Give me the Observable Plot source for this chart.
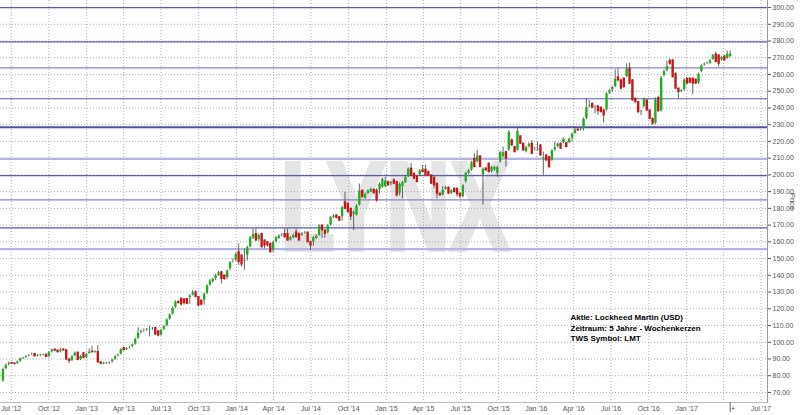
<!DOCTYPE html>
<html><head><meta charset="utf-8">
<script src="https://cdn.jsdelivr.net/npm/d3@7"></script>
<script src="https://cdn.jsdelivr.net/npm/@observablehq/plot@0.6"></script>
<style>body{margin:0;background:#fff;} #chart svg{display:block;background:#fff;}</style>
</head><body><div id="chart"></div>
<script>
const startDate = "2012-06-11";
const opens = [
76.6,84.0,86.4,87.6,87.2,87.0,88.4,90.2,90.6,91.6,
92.4,93.0,91.6,92.0,92.2,92.6,91.2,94.0,95.6,95.0,
94.0,95.6,95.2,89.6,88.8,91.6,93.8,89.4,93.4,90.6,
93.0,94.4,94.0,94.2,88.0,87.2,87.2,87.6,88.0,89.6,
91.6,92.6,96.6,95.2,96.4,97.2,98.6,102.0,105.6,106.8,
107.4,107.6,108.0,108.6,106.6,104.0,107.4,109.6,113.6,116.6,
120.6,124.2,126.0,125.6,125.9,126.4,127.9,129.9,127.0,124.9,
124.9,128.9,133.9,135.9,137.8,139.8,141.8,139.8,138.4,143.8,
147.8,148.8,153.8,151.8,148.0,151.8,156.8,161.8,164.7,161.2,
164.7,160.8,159.8,158.8,154.8,159.8,161.8,163.7,164.7,164.7,
160.8,162.1,165.7,164.7,163.7,165.1,165.5,159.8,159.8,161.8,
163.7,169.7,166.7,165.0,169.7,174.3,175.7,174.7,174.7,183.7,
182.7,179.7,176.0,175.7,181.7,190.6,185.7,188.6,189.6,191.0,
190.7,190.7,192.3,192.7,195.7,194.4,196.7,195.7,188.7,192.7,
195.1,198.7,203.7,200.7,199.1,199.7,202.7,203.1,201.7,199.7,
198.3,194.7,188.7,187.7,191.1,192.3,188.7,191.7,191.7,188.7,
186.7,195.7,200.7,202.7,209.6,207.6,211.0,199.7,203.7,206.7,
201.7,202.7,200.7,207.6,210.6,213.6,214.6,220.6,216.6,214.6,
223.0,218.6,213.6,216.6,218.6,215.0,214.6,217.6,209.0,211.6,
210.6,208.6,214.6,216.6,218.6,219.0,219.0,219.0,221.6,224.6,
227.0,226.6,227.6,233.5,240.5,242.5,240.1,240.9,240.1,238.5,
238.5,248.5,250.5,252.5,258.4,256.5,257.5,258.4,263.4,256.5,
245.5,243.5,237.5,240.5,244.5,238.5,233.5,230.6,246.0,238.0,
259.0,262.0,268.0,268.4,260.4,251.5,249.5,250.5,257.5,257.5,
257.5,256.9,254.5,261.4,265.4,266.4,266.4,268.8,272.0,271.4,
268.4,270.8,269.4,270.4];
const highs = [
84.6,87.0,88.2,88.0,87.8,88.8,90.6,91.0,92.0,92.8,
93.6,93.4,92.6,92.8,93.0,92.8,94.4,96.0,96.0,95.2,
96.4,96.2,95.4,90.4,92.0,94.2,94.0,92.2,93.8,93.4,
96.0,97.6,95.0,98.0,88.4,88.0,88.0,88.4,90.0,92.0,
93.0,96.2,96.8,96.8,97.6,99.0,102.4,108.6,107.4,108.0,
108.2,109.6,109.0,108.8,106.8,107.8,110.0,114.0,117.0,121.0,
124.8,124.6,126.4,125.8,126.2,128.4,130.9,130.6,127.4,125.2,
129.4,134.4,137.4,138.4,140.6,142.4,142.2,140.2,143.2,148.2,
149.8,153.4,158.8,152.2,155.8,157.4,163.2,167.7,167.7,164.8,
165.2,161.2,160.2,159.2,160.2,163.2,164.2,165.0,167.7,167.7,
163.2,164.6,167.7,165.2,165.6,166.2,165.8,160.2,163.2,164.2,
170.2,170.2,167.2,170.2,175.2,176.2,176.2,175.0,181.2,189.6,
183.2,180.2,178.6,182.2,194.6,190.8,189.2,191.2,192.2,191.8,
191.7,195.2,198.2,198.7,196.2,196.2,197.7,196.2,195.2,196.2,
199.2,204.2,206.7,201.2,199.6,203.2,205.7,205.7,202.2,200.2,
198.8,195.2,189.2,193.1,193.2,192.8,191.2,192.2,192.2,189.2,
194.2,201.6,203.2,208.1,212.6,214.6,211.5,204.2,204.6,207.2,
205.2,205.2,205.2,214.1,216.6,214.1,226.6,221.5,217.1,227.6,
223.5,219.1,217.1,219.1,220.6,216.4,219.6,218.1,213.6,212.1,
211.1,215.1,219.6,219.1,219.2,222.0,219.4,222.0,225.0,228.6,
227.6,228.0,234.0,245.5,244.5,243.0,241.4,241.4,240.6,239.0,
249.0,251.0,253.0,262.8,263.4,257.0,258.0,266.4,266.8,257.0,
246.0,244.0,238.6,246.0,245.0,239.0,234.0,246.0,247.0,258.8,
262.6,268.0,269.4,268.8,260.8,252.0,251.0,257.4,258.0,258.0,
258.0,257.4,260.9,265.9,266.9,267.4,268.9,272.0,273.4,271.8,
270.8,271.2,274.0,274.0];
const lows = [
76.0,83.6,85.8,86.8,86.4,86.8,88.0,89.6,90.2,91.2,
92.0,91.2,91.2,91.4,91.8,90.8,91.0,93.6,94.4,93.6,
93.6,94.6,89.0,87.2,88.4,91.2,89.0,89.0,90.2,90.2,
92.8,93.6,93.4,87.6,86.6,86.6,86.8,86.8,87.6,89.2,
91.2,92.4,94.8,95.0,96.0,96.8,98.2,101.6,105.0,106.0,
106.6,103.2,107.0,104.0,103.2,103.6,107.0,109.2,113.2,116.2,
120.2,122.8,121.6,122.2,122.4,122.6,127.6,126.6,121.4,121.6,
122.2,128.4,133.4,135.4,136.8,139.4,134.9,136.8,137.4,142.6,
147.2,148.2,145.8,144.8,143.0,148.6,156.4,161.4,160.2,160.4,
156.2,155.8,156.8,153.2,153.6,159.4,161.4,163.0,162.2,160.2,
160.4,161.8,162.2,160.2,163.2,164.4,159.2,154.8,157.4,161.4,
163.4,162.0,162.0,164.6,169.4,174.0,173.6,172.2,172.4,179.2,
177.2,172.7,166.7,175.4,181.4,186.2,185.4,188.2,189.4,188.4,
183.7,188.4,192.0,192.4,193.2,193.4,194.2,186.7,187.4,185.7,
194.8,198.4,199.2,197.2,195.2,199.2,201.2,199.2,199.0,194.2,
191.7,185.7,187.2,187.4,190.8,188.2,188.4,189.2,186.7,185.7,
186.2,195.2,200.2,202.2,204.2,207.1,204.2,181.8,202.2,201.2,
201.2,202.2,198.7,207.1,210.1,204.7,214.1,217.1,213.1,214.1,
218.1,214.1,213.1,216.1,212.1,214.4,214.1,211.1,199.7,208.1,
203.7,208.1,214.1,216.1,215.2,218.6,216.2,218.6,219.6,224.2,
226.0,226.2,226.2,233.0,240.0,239.6,236.5,235.5,237.0,231.0,
238.0,248.0,249.5,252.0,255.5,251.0,251.5,258.0,254.0,244.0,
242.5,236.5,235.5,240.0,238.0,233.0,229.6,230.0,237.5,237.5,
258.5,261.5,265.5,258.0,251.0,245.5,249.0,250.0,254.0,255.0,
248.0,254.0,254.0,261.0,265.0,266.0,266.0,268.4,267.0,264.4,
268.0,268.0,269.0,270.0];
const closes = [
84.0,86.4,87.6,87.2,87.0,88.4,90.2,90.6,91.6,92.4,
93.0,91.6,92.0,92.2,92.6,91.2,94.0,95.6,95.0,94.0,
95.6,95.2,89.6,88.8,91.6,93.8,89.4,91.8,90.6,93.0,
94.4,94.0,94.2,88.0,87.2,87.2,87.6,88.0,89.6,91.6,
92.6,95.8,95.2,96.4,97.2,98.6,102.0,105.6,106.8,107.4,
107.6,108.0,108.6,104.6,104.0,107.4,109.6,113.6,116.6,120.6,
124.2,123.4,122.6,123.4,122.9,127.9,129.9,127.0,121.9,122.5,
128.9,133.9,136.9,137.8,139.8,141.8,137.8,137.8,142.8,147.8,
148.4,152.8,147.8,146.4,149.0,156.8,162.7,164.7,160.8,164.1,
156.8,157.8,157.8,153.8,159.8,162.7,163.7,164.2,162.7,160.8,
162.7,164.1,162.7,160.8,165.1,165.5,159.8,157.8,162.7,163.7,
169.7,166.7,164.7,169.7,174.7,175.7,174.3,172.7,180.7,179.7,
177.7,175.1,178.0,181.7,190.6,186.7,188.6,190.6,191.6,189.0,
184.7,194.7,197.7,196.7,193.7,195.7,194.7,187.7,194.7,195.7,
198.7,203.7,199.7,197.7,195.7,202.7,201.7,199.7,199.7,194.7,
193.7,188.7,187.7,191.1,192.7,188.7,190.7,189.7,188.3,187.1,
193.7,201.1,202.7,207.6,204.7,211.6,204.7,203.7,202.7,201.7,
204.7,204.7,204.7,213.6,213.6,209.6,225.6,217.6,213.6,226.2,
218.6,214.6,216.6,218.6,212.6,215.6,215.6,211.6,210.5,208.6,
204.7,214.6,216.6,218.6,215.6,221.6,216.6,221.6,224.6,227.0,
226.6,227.6,233.5,240.5,241.5,240.1,240.9,238.1,237.5,235.5,
248.5,250.5,252.5,257.5,256.5,251.5,252.5,263.4,254.5,244.5,
243.5,237.5,238.5,245.5,238.5,233.5,230.6,245.0,238.0,258.0,
262.0,265.0,266.4,258.4,251.5,249.5,250.5,256.9,254.5,255.0,
254.5,254.5,260.4,265.4,266.4,266.8,268.4,271.6,267.4,266.4,
270.4,268.4,272.4,272.4];

const levelsDark = [300, 279.5, 245.5, 199.6, 168.3];
const levelsMid = [264, 185.1];
const levelsThick = [228.5];
const levelsLight = [209.6, 155.6];
const yTicks = [70,80,90,100,110,120,130,140,150,160,170,180,190,200,210,220,230,240,250,260,270,280,290,300];
const xTickDates = ["2012-07-01","2012-10-01","2013-01-01","2013-04-01","2013-07-01","2013-10-01","2014-01-01","2014-04-01","2014-07-01","2014-10-01","2015-01-01","2015-04-01","2015-07-01","2015-10-01","2016-01-01","2016-04-01","2016-07-01","2016-10-01","2017-01-01","2017-07-01"];
const infoLines = ["Aktie: Lockheed Martin (USD)", "Zeitraum: 5 Jahre - Wochenkerzen", "TWS Symbol: LMT"];
const watermark = "LYNX";

const t0 = Date.parse(startDate);
const weeks = opens.map((o, i) => ({
  date: new Date(t0 + i * 7 * 864e5),
  open: o, high: highs[i], low: lows[i], close: closes[i]
}));
const xTicks = xTickDates.map(d => new Date(d));
const gridXTicks = xTicks.concat([new Date("2017-04-01")]);
const last = weeks[weeks.length - 1];

const chart = Plot.plot({
  width: 800, height: 415,
  marginLeft: 0, marginRight: 33, marginTop: 0, marginBottom: 13,
  style: {fontFamily: "Liberation Sans, Arial, sans-serif", background: "#fff"},
  x: {type: "utc", domain: [new Date("2012-06-05"), new Date("2017-07-17")]},
  y: {domain: [64, 304.2]},
  marks: [
    Plot.text([watermark], {frameAnchor: "top-left", dx: 280, dy: 249, textAnchor: "start", lineAnchor: "bottom",
      fontSize: 126, fontWeight: "bold", fill: "#e5e5e5", stroke: "#e5e5e5", strokeWidth: 4, strokeLinejoin: "miter"}),
    Plot.gridY(yTicks, {stroke: "#b0b0b0", strokeOpacity: 1, strokeDasharray: "1,2"}),
    Plot.gridX(gridXTicks, {stroke: "#b0b0b0", strokeOpacity: 1, strokeDasharray: "1,2"}),
    Plot.ruleY(levelsLight, {stroke: "#b4b4e4", strokeWidth: 2.2}),
    Plot.ruleY(levelsMid, {stroke: "#8484c4", strokeWidth: 1.2}),
    Plot.ruleY(levelsDark, {stroke: "#5c5ca8", strokeWidth: 1.2}),
    Plot.ruleY(levelsThick, {stroke: "#5050a4", strokeWidth: 2}),
    Plot.ruleX(weeks, {x: "date", y1: "low", y2: "high", stroke: "#555", strokeWidth: 0.9}),
    Plot.ruleX(weeks, {x: "date", y1: "open", y2: "close", insetTop: -0.5, insetBottom: -0.5,
      stroke: d => d.close >= d.open ? "#1fae1f" : "#c41818", strokeWidth: 2.4}),
    Plot.axisY({anchor: "right", ticks: yTicks, tickFormat: d => d.toFixed(2), tickSize: 3, tickPadding: 2,
      fontSize: 7, color: "#555", label: null}),
    Plot.axisX({ticks: xTicks, tickFormat: d3.utcFormat("%b '%y"), tickSize: 0, tickPadding: 4,
      fontSize: 7, color: "#555", label: null}),
    Plot.frame({anchor: "right", stroke: "#999"}),
    Plot.frame({anchor: "bottom", stroke: "#bbb"}),
    Plot.ruleX([last], {x: "date", insetTop: 402, insetBottom: -10, stroke: "#666"}),
    Plot.text([last], {x: "date", frameAnchor: "bottom", text: () => "+", dy: 8, dx: 3, fontSize: 7, fill: "#555"}),
    Plot.text([infoLines.join("\n")], {frameAnchor: "top-left", dx: 570, dy: 312, textAnchor: "start", lineAnchor: "top",
      lineHeight: 1.32, fontSize: 8, fontWeight: "bold", fill: "#000"}),
    Plot.text(["Price"], {frameAnchor: "right", rotate: 90, dx: 25, fontSize: 7.5, fill: "#555", textAnchor: "middle"})
  ]
});
d3.select(chart).selectAll("text")
  .filter(function() { return this.textContent === watermark; })
  .attr("textLength", 229).attr("lengthAdjust", "spacingAndGlyphs");
document.getElementById("chart").append(chart);
</script>
</body></html>
